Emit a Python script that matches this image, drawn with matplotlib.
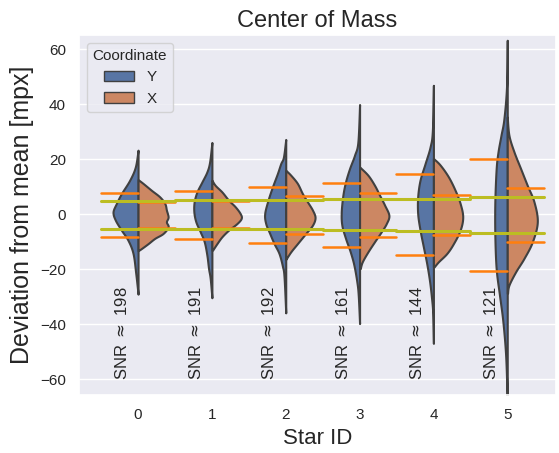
import numpy as np
import matplotlib
matplotlib.use("Agg")
import matplotlib.pyplot as plt
from matplotlib.patches import Patch
import seaborn as sns

# ---- data -------------------------------------------------------------
star_ids = [0, 1, 2, 3, 4, 5]
snr = [198, 191, 192, 161, 144, 121]

# Kernel-density outline of each half violin: deviation values [mpx]
# and the corresponding half-width (in category units).
y_vals = [
    [23.3, 17.2, 12.4, 7.5, 3.9, 0.8, -2.2, -5.8, -9.5, -14.3, -21.6, -29.1],
    [26.1, 19.0, 15.4, 11.7, 8.1, 4.5, 0.8, -2.8, -6.4, -10.0, -14.9, -19.8, -23.4, -30.4],
    [27.2, 20.8, 18.4, 14.8, 9.9, 5.1, 0.2, -3.4, -7.0, -10.7, -14.3, -18.9, -22.8, -35.9],
    [39.9, 26.3, 21.5, 16.6, 11.8, 6.9, 0.8, -4.0, -8.8, -13.7, -18.5, -24.6, -29.5, -39.8],
    [46.9, 30.5, 24.5, 18.4, 12.4, 6.3, 0.2, -5.8, -11.9, -17.9, -24.0, -30.1, -36.1, -47.0],
    [63.3, 46.9, 34.8, 28.7, 22.7, 16.6, 4.5, -7.6, -19.8, -29.5, -37.9, -47.6, -56.1, -70.0],
]
y_dens = [
    [0.0, 0.037, 0.113, 0.226, 0.294, 0.339, 0.307, 0.226, 0.136, 0.068, 0.031, 0.0],
    [0.0, 0.031, 0.068, 0.136, 0.203, 0.240, 0.244, 0.217, 0.158, 0.104, 0.068, 0.045, 0.023, 0.0],
    [0.0, 0.031, 0.068, 0.113, 0.181, 0.240, 0.285, 0.271, 0.217, 0.158, 0.091, 0.045, 0.023, 0.0],
    [0.0, 0.023, 0.068, 0.136, 0.190, 0.226, 0.248, 0.240, 0.190, 0.126, 0.077, 0.037, 0.018, 0.0],
    [0.0, 0.014, 0.045, 0.113, 0.181, 0.213, 0.213, 0.181, 0.136, 0.091, 0.054, 0.027, 0.009, 0.0],
    [0.0, 0.009, 0.045, 0.085, 0.125, 0.150, 0.168, 0.168, 0.150, 0.105, 0.064, 0.031, 0.014, 0.0],
]
x_vals = [
    [12.6, 11.2, 8.7, 6.3, 3.9, 1.5, -1.0, -2.8, -4.6, -7.0, -8.8, -10.7, -12.5, -13.3],
    [12.4, 10.5, 8.1, 5.1, 2.7, 0.2, -1.5, -3.4, -5.8, -8.2, -10.7, -13.1],
    [16.0, 14.2, 11.2, 7.5, 4.5, 1.5, -1.2, -4.0, -7.0, -10.7, -13.7, -16.5],
    [17.2, 14.2, 10.5, 6.9, 3.3, -0.4, -3.4, -6.4, -10.0, -13.7, -17.3, -19.8],
    [20.3, 17.9, 13.6, 8.7, 3.9, -1.0, -5.8, -10.7, -14.3, -17.3, -19.2],
    [35.4, 28.7, 22.7, 16.6, 10.5, 4.5, -2.8, -10.1, -16.1, -21.0, -25.8, -28.8],
]
x_dens = [
    [0.0, 0.068, 0.181, 0.294, 0.362, 0.384, 0.407, 0.384, 0.407, 0.339, 0.226, 0.136, 0.045, 0.0],
    [0.0, 0.045, 0.136, 0.226, 0.316, 0.384, 0.397, 0.339, 0.226, 0.136, 0.068, 0.009],
    [0.0, 0.068, 0.158, 0.226, 0.294, 0.362, 0.397, 0.362, 0.271, 0.158, 0.068, 0.0],
    [0.0, 0.113, 0.203, 0.271, 0.339, 0.397, 0.362, 0.294, 0.203, 0.113, 0.037, 0.009],
    [0.0, 0.091, 0.203, 0.294, 0.362, 0.397, 0.362, 0.271, 0.181, 0.068, 0.009],
    [0.0, 0.023, 0.091, 0.181, 0.271, 0.362, 0.407, 0.339, 0.226, 0.113, 0.023, 0.004],
]

# Spread of each coordinate (upper / lower) [mpx]
y_spread_hi = [7.7, 8.5, 9.9, 11.4, 14.5, 20.2]
y_spread_lo = [-8.3, -9.0, -10.4, -11.9, -14.9, -20.7]
x_spread_hi = [4.6, 4.7, 6.7, 7.8, 6.9, 9.6]
x_spread_lo = [-5.0, -5.2, -7.3, -8.2, -7.5, -10.1]

# Expected noise level per star [mpx]
expected_hi = [4.85, 5.2, 5.3, 5.7, 5.7, 6.3]
expected_lo = [-5.45, -5.45, -5.45, -5.6, -6.1, -6.8]

coord_labels = ["Y", "X"]


# ---- helpers ----------------------------------------------------------
def smooth_outline(v, w, n=16):
    """Catmull-Rom curve through the outline points."""
    p = np.column_stack([v, w]).astype(float)
    p = np.vstack([p[0], p, p[-1]])
    out = []
    t = np.linspace(0, 1, n, endpoint=False)[:, None]
    for k in range(1, len(p) - 2):
        p0, p1, p2, p3 = p[k - 1], p[k], p[k + 1], p[k + 2]
        seg = 0.5 * ((2 * p1) + (-p0 + p2) * t
                     + (2 * p0 - 5 * p1 + 4 * p2 - p3) * t ** 2
                     + (-p0 + 3 * p1 - 3 * p2 + p3) * t ** 3)
        out.append(seg)
    out.append(p[-2][None, :])
    out = np.vstack(out)
    return out[:, 0], np.clip(out[:, 1], 0, None)


# ---- figure -----------------------------------------------------------
sns.set_theme(style="darkgrid")
plt.rcParams["font.family"] = ["Liberation Sans", "DejaVu Sans"]

fig = plt.figure(figsize=(5.59, 4.53), dpi=100)
ax = fig.add_axes([0.1413, 0.128, 0.8533, 0.7947])

c_y = "#5875a4"
c_x = "#cc8763"
edge = "#404040"

for i in star_ids:
    v, w = smooth_outline(y_vals[i], y_dens[i])
    ax.fill_betweenx(v, i - w, i, facecolor=c_y, edgecolor=edge,
                     linewidth=1.5, zorder=2)
    v, w = smooth_outline(x_vals[i], x_dens[i])
    ax.fill_betweenx(v, i, i + w, facecolor=c_x, edgecolor=edge,
                     linewidth=1.5, zorder=2)

    ax.plot([i - 0.5, i], [y_spread_hi[i]] * 2, color="#ff7f0e", lw=1.8, zorder=3)
    ax.plot([i - 0.5, i], [y_spread_lo[i]] * 2, color="#ff7f0e", lw=1.8, zorder=3)
    ax.plot([i, i + 0.5], [x_spread_hi[i]] * 2, color="#ff7f0e", lw=1.8, zorder=3)
    ax.plot([i, i + 0.5], [x_spread_lo[i]] * 2, color="#ff7f0e", lw=1.8, zorder=3)

    ax.plot([i - 0.5, i + 0.5], [expected_hi[i]] * 2, color="#bcbd22", lw=2.2, zorder=4)
    ax.plot([i - 0.5, i + 0.5], [expected_lo[i]] * 2, color="#bcbd22", lw=2.2, zorder=4)

    ax.text(i - 0.22, -60.5, f"SNR $\\approx$ {snr[i]}", rotation=90,
            ha="center", va="bottom", fontsize=12, color="#262626", zorder=5)

ax.set_xlim(-0.8, 5.66)
ax.set_ylim(-65.8, 65.2)
ax.set_xticks(star_ids)
ax.set_xticklabels([str(s) for s in star_ids])
ax.set_yticks([-60, -40, -20, 0, 20, 40, 60])
ax.tick_params(labelsize=11)
ax.grid(False, axis="x")

ax.set_title("Center of Mass", fontsize=17)
ax.set_xlabel("Star ID", fontsize=16)
ax.set_ylabel("Deviation from mean [mpx]", fontsize=18)

handles = [Patch(facecolor=c_y, edgecolor=edge, label=coord_labels[0]),
           Patch(facecolor=c_x, edgecolor=edge, label=coord_labels[1])]
ax.legend(handles=handles, title="Coordinate", loc="upper left",
          fontsize=11, title_fontsize=11)

fig.savefig("out.png", dpi=100)
